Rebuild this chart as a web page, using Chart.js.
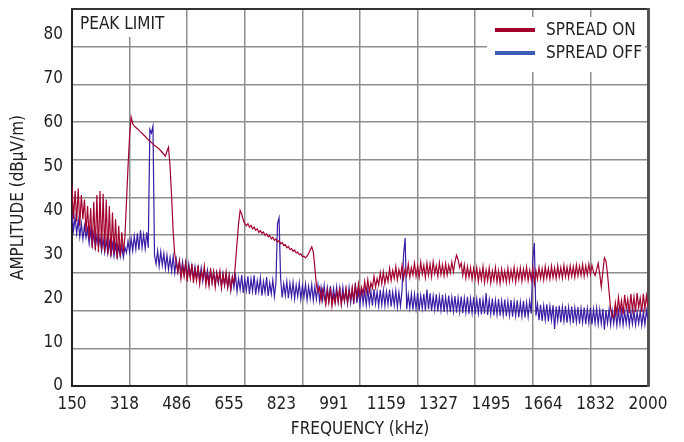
<!DOCTYPE html>
<html>
<head>
<meta charset="utf-8">
<script src="https://cdn.jsdelivr.net/npm/chart.js@4.4.0/dist/chart.umd.min.js"></script>
<style>
  body { margin: 0; background: #fff; }
  #wrap { width: 684px; height: 442px; }
</style>
</head>
<body>
<div id="wrap"><canvas id="emiChart" width="684" height="442"></canvas></div>
<script>
const fontFam = "'DejaVu Sans Condensed', Roboto, sans-serif";

// sweep: 150 kHz .. 2000 kHz, one reading every 5 kHz
const freqStart = 150;
const freqStep = 5;

// dBuV/m, one row per 100 kHz (20 readings)
const spreadOn = [
  45.8, 38, 44.5, 37.5, 45, 36.5, 43.5, 38, 42.5, 35, 41, 33.5, 40.5, 31.5, 42, 31, 43.5, 30.5, 44.4, 31,        // 150
  43.8, 30.5, 42.5, 30, 41, 29.5, 39.5, 30, 38, 29, 36.5, 29.5, 35, 30.5, 34, 42, 50, 57, 61.3, 59.8,             // 250
  59.2, 58.9, 58.6, 58.3, 57.9, 57.6, 57.2, 56.9, 56.5, 56.1, 55.8, 55.5, 55.1, 54.8, 54.6, 54.3, 54, 53.6, 53.2, 52.8, // 350
  52.4, 53.5, 54.4, 50, 43, 35, 30, 28, 26, 28.5, 24.5, 27.5, 25, 28, 23.8, 27, 24.5, 27.8, 23.5, 26.5,          // 450
  24, 27.5, 23.2, 26, 24.5, 27.3, 23, 25.5, 22.8, 26.8, 23.5, 26, 22.5, 25.8, 23.8, 26.2, 22.3, 25.5, 23, 26,     // 550
  22.5, 25.2, 22, 24.8, 23.5, 28, 32.5, 37, 40, 39.2, 37.8, 37, 36.5, 37, 36.2, 36.6, 35.8, 36.2, 35.5, 35.8,     // 650
  35, 35.4, 34.8, 35.1, 34.3, 34.7, 34, 34.3, 33.5, 33.9, 33.2, 33.5, 32.8, 33.1, 32.4, 32.7, 32, 32.2, 31.5, 31.8, // 750
  31.1, 31.3, 30.7, 31, 30.3, 30.5, 29.9, 30.1, 29.5, 29.6, 29.2, 29.6, 30.2, 31, 31.7, 30.5, 27, 23, 21.5, 22.5, // 850
  19.5, 22, 20.5, 18.5, 21.8, 19, 22.3, 18.2, 20.8, 18.8, 21.5, 19.2, 22.5, 18.5, 21, 19.5, 22.2, 19, 21.5, 19.8, // 950
  22.5, 19.5, 22.8, 20.3, 23.3, 20.5, 22.5, 21, 23.8, 21.3, 24.2, 21.5, 23.5, 22.3, 25, 22.5, 24.5, 23, 25.8, 23.3, // 1050
  26, 23.3, 25.5, 23.8, 26.8, 24, 26.3, 24.5, 27.2, 24.2, 26.5, 24.8, 27.5, 24.5, 26.8, 25.2, 27.8, 24.8, 27, 25.3, // 1150
  28, 25, 27.3, 24.8, 28.2, 25.5, 27.5, 24.7, 28, 25.3, 27.8, 24.9, 28.3, 25.6, 27.4, 25, 28.1, 25.4, 27.6, 25.1,  // 1250
  27.9, 25.3, 27.5, 25.8, 28.2, 26, 28.3, 29.8, 28.8, 27, 28, 25.2, 27.6, 24.6, 27.2, 24.8, 27, 24.3, 26.8, 24.5,  // 1350
  27, 23.8, 26.5, 24.2, 27.2, 23.6, 26.4, 24, 26.9, 23.5, 26.2, 24.1, 27, 23.7, 26.3, 23.4, 26.6, 24, 26.2, 23.6,  // 1450
  26.8, 23.8, 26.4, 24.2, 27, 23.7, 26.5, 24.3, 26.9, 23.9, 26.6, 24.4, 27.1, 24, 26.4, 24.2, 26.8, 23.4, 26.3, 24.3, // 1550
  27, 24.5, 26.7, 24.2, 27.2, 24.6, 26.8, 24.4, 27.3, 24.7, 26.9, 24.5, 27.4, 24.8, 27, 24.6, 27.5, 24.9, 27.1, 24.7, // 1650
  27.4, 25, 27.2, 24.8, 27.6, 25.1, 27.3, 25.2, 27.7, 25, 27.4, 25.3, 27.8, 25.5, 27.5, 26, 25.2, 26.5, 28, 25.5,  // 1750
  22.6, 26, 29.2, 28.5, 25.5, 21.5, 17.5, 16, 15.5, 19, 16.5, 20.2, 17, 19.5, 16.3, 20.8, 17.5, 19.8, 16.6, 21,   // 1850
  17.2, 20.3, 16.8, 21.2, 17.8, 20, 16.9, 21, 17.5, 20.6, 18                                                      // 1950
];

const spreadOff = [
  39.5, 35.5, 38.5, 34.8, 37.8, 34, 37, 33.5, 36.5, 33.8, 35.8, 32.5, 35.5, 32, 34.8, 31.5, 34.2, 31.8, 33.8, 30.8, // 150
  33.5, 30.5, 33.2, 30.2, 32.8, 29.8, 32.4, 29.6, 32.2, 29.4, 31.9, 29.5, 31.8, 29.3, 31.6, 30.4, 33, 30.5, 33.6, 30.8, // 250
  34.2, 31.2, 34.8, 31, 35.5, 31.5, 34.5, 31.3, 35, 31.5, 58.5, 57.6, 59.2, 29.8, 27.8, 30.8, 27.3, 30.6, 27.5, 30.2, // 350
  26.8, 29.8, 26.5, 29.3, 26.2, 29.5, 25.8, 28.8, 26, 28.5, 25.3, 28.3, 25.5, 28, 24.8, 27.8, 25, 27.5, 24.6, 27.2, // 450
  24.4, 27, 24.2, 26.9, 23.9, 26.6, 24, 26.4, 23.5, 26.2, 23.6, 25.9, 23.2, 25.8, 23.3, 25.6, 22.8, 25.5, 23, 25.3, // 550
  22.5, 25.2, 21.8, 24.8, 22.4, 25.6, 21.5, 24.5, 22, 25.3, 21.2, 24.3, 21.8, 25, 21, 24.4, 21.6, 25.2, 20.8, 24,   // 650
  21.5, 24.6, 20.6, 23.8, 21.3, 24.8, 20.5, 23.5, 21, 24.2, 20.4, 23.6, 37, 38.3, 24.5, 20.2, 23.3, 20.6, 23.8, 20, // 750
  23.4, 20.3, 23.6, 19.9, 23, 20.4, 23.5, 19.8, 22.8, 20.2, 23.2, 19.6, 22.7, 20, 23.1, 19.5, 22.6, 19.8, 23, 19.4, // 850
  22.5, 19.6, 22.9, 19.2, 22.4, 19.5, 22.8, 19, 22.2, 19.4, 22.6, 19.1, 22.3, 18.9, 22.5, 19.3, 22, 18.8, 22.4, 19, // 950
  22, 18.7, 23.5, 18.9, 21.8, 18.5, 22.2, 18.8, 21.7, 18.4, 22, 18.6, 21.6, 18.3, 22.1, 18.7, 21.5, 18.2, 21.9, 18.5, // 1050
  21.8, 18.3, 21.5, 18.6, 22, 18.1, 21.4, 18.4, 21.7, 18, 21.3, 18.2, 21.8, 30, 33.7, 17.5, 20.8, 17.8, 21, 17.4,  // 1150
  20.9, 17.6, 21.2, 17.3, 20.6, 17.7, 21, 17.2, 22, 17.5, 21.1, 17.1, 20.5, 17.4, 20.9, 17, 20.4, 17.3, 20.8, 16.9, // 1250
  20.3, 17.2, 20.6, 16.8, 20.2, 17, 20.5, 16.7, 20.1, 16.9, 20.4, 16.6, 20, 16.8, 20.3, 16.5, 19.9, 16.7, 20.2, 16.4, // 1350
  19.8, 16.6, 20.1, 16.3, 19.7, 16.5, 21.2, 16.2, 19.6, 16.4, 19.9, 16.1, 19.5, 16.3, 19.8, 16, 19.4, 16.2, 19.7, 15.9, // 1450
  19.3, 16.1, 19.6, 15.8, 19.2, 16, 19.5, 15.7, 19.1, 15.9, 19.4, 15.6, 19, 15.8, 19.3, 16.5, 29, 32.6, 16, 18.6,   // 1550
  15, 18.5, 14.8, 18.3, 15.1, 18.6, 14.7, 18.2, 15, 18.4, 13, 18.1, 14.9, 18.3, 14.5, 18, 14.8, 18.2, 14.4, 17.9,  // 1650
  14.7, 18.1, 14.3, 17.8, 14.6, 18, 14.2, 17.7, 14.5, 17.9, 14.1, 17.6, 14.4, 17.8, 14, 17.5, 14.3, 17.7, 14.1, 17.4, // 1750
  14.2, 17.6, 12.8, 17.3, 14.3, 17.5, 13.9, 17.2, 14.2, 17.4, 13.8, 17.1, 14.1, 17.3, 13.9, 17, 14.2, 17.2, 13.8, 16.9, // 1850
  14.1, 17.1, 13.9, 16.8, 14.2, 17, 13.8, 16.9, 14, 17.2, 15                                                      // 1950
];

const seriesNames = ["SPREAD ON", "SPREAD OFF"];
const xTickLabels = ["150", "318", "486", "655", "823", "991", "1159", "1327", "1495", "1664", "1832", "2000"];
const yTickValues = [0, 10, 20, 30, 40, 50, 60, 70, 80];

const toPoints = (vals) => vals.map((v, i) => ({ x: freqStart + i * freqStep, y: v }));

const insideLabels = {
    id: "insideLabels",
    afterDraw(chart) {
        const { ctx, chartArea: a } = chart;
        ctx.save();
        ctx.fillStyle = "#fff";
        ctx.fillRect(a.left + 1, a.top + 1, 103, 27);
        ctx.fillRect(a.right - 161, a.top + 8, 158, 55);

        ctx.font = "17px " + fontFam;
        ctx.fillStyle = "#222";
        ctx.textBaseline = "middle";
        ctx.fillText("PEAK LIMIT", a.left + 8, a.top + 16);

        chart.data.datasets.forEach((ds, i) => {
            const y = a.top + 21 + i * 23;
            ctx.strokeStyle = ds.legendColor;
            ctx.lineWidth = 4;
            ctx.beginPath();
            ctx.moveTo(a.right - 153, y);
            ctx.lineTo(a.right - 113, y);
            ctx.stroke();
            ctx.fillStyle = "#222";
            ctx.fillText(ds.label, a.right - 102, y + 1);
        });
        ctx.restore();
    }
};

const gridColour = "#8e8e8e";

new Chart(document.getElementById("emiChart"), {
    type: "line",
    data: {
        datasets: [{
            label: seriesNames[0],
            data: toPoints(spreadOn),
            borderColor: "#a3002d",
            legendColor: "#a0002a",
            borderWidth: 1.2,
            pointRadius: 0,
        }, {
            label: seriesNames[1],
            data: toPoints(spreadOff),
            borderColor: "#3a1ca6",
            legendColor: "#3d5cb5",
            borderWidth: 1.2,
            pointRadius: 0,
        }],
    },
    options: {
        responsive: false,
        animation: false,
        layout: { padding: { top: 9, right: 36, left: 0, bottom: 0 } },
        plugins: {
            legend: { display: false },
            tooltip: { enabled: false },
        },
        scales: {
            x: {
                type: "linear",
                min: 150,
                max: 2000,
                grid: { display: false, drawTicks: false },
                border: { display: true, color: "#222", width: 2 },
                afterBuildTicks: (scale) => {
                    scale.ticks = xTickLabels.map((l, i) => ({ value: 150 + i * 1850 / (xTickLabels.length - 1) }));
                },
                afterFit: (scale) => {
                    scale.height = 56;
                    scale.paddingLeft = 0;
                    scale.paddingRight = 0;
                },
                ticks: {
                    autoSkip: false,
                    maxRotation: 0,
                    padding: 8,
                    color: "#222",
                    font: { family: fontFam, size: 17 },
                    callback: (v, i) => xTickLabels[i],
                },
                title: {
                    display: true,
                    text: "FREQUENCY (kHz)",
                    color: "#222",
                    font: { family: fontFam, size: 17 },
                    padding: { top: 0, bottom: 2 },
                },
            },
            y: {
                min: 0,
                max: 85.9,
                grid: { display: false, drawTicks: false },
                border: { display: true, color: "#222", width: 2 },
                afterBuildTicks: (scale) => {
                    scale.ticks = yTickValues.map(v => ({ value: v }));
                },
                afterFit: (scale) => {
                    scale.width = 72;
                    scale.paddingTop = 0;
                    scale.paddingBottom = 0;
                },
                ticks: {
                    padding: 9,
                    color: "#222",
                    font: { family: fontFam, size: 17 },
                },
                title: {
                    display: true,
                    text: "AMPLITUDE (dBµV/m)",
                    color: "#222",
                    font: { family: fontFam, size: 17 },
                    padding: { top: 8, bottom: 0 },
                },
            },
            gx: {
                type: "linear",
                position: "top",
                min: 0,
                max: 10,
                ticks: { display: false, stepSize: 1 },
                grid: { color: gridColour, lineWidth: 1.5, drawTicks: false },
                border: { display: true, color: "#333", width: 2 },
                afterFit: (scale) => { scale.height = 0; },
            },
            gy: {
                type: "linear",
                position: "right",
                min: 0,
                max: 10,
                ticks: { display: false, stepSize: 1 },
                grid: { color: gridColour, lineWidth: 1.5, drawTicks: false },
                border: { display: true, color: "#555", width: 3 },
                afterFit: (scale) => { scale.width = 0; },
            },
        },
    },
    plugins: [insideLabels],
});
</script>
</body>
</html>
